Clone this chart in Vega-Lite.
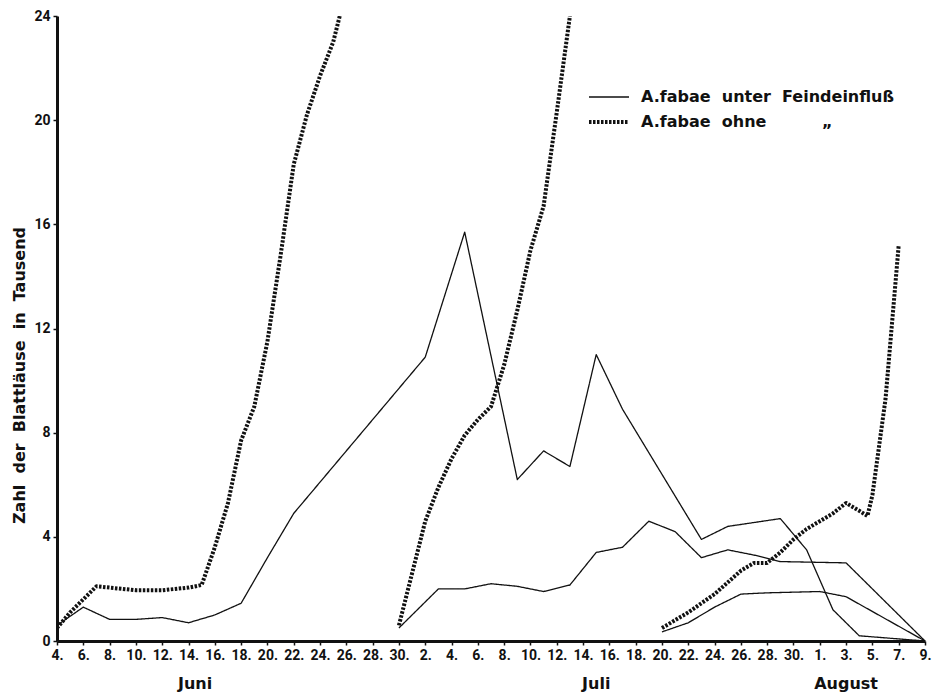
{
  "$schema": "https://vega.github.io/schema/vega-lite/v6.json",
  "autosize": "none",
  "width": 868,
  "height": 625,
  "padding": {"left": 57, "top": 16, "right": 17, "bottom": 55},
  "background": "white",
  "config": {
    "view": {"stroke": null},
    "font": "Roboto",
    "axis": {"labelOverlap": false}
  },
  "datasets": {
    "kurven": [
      {"tag": "1961-06-04", "anzahl": 0.6, "gruppe": "unter Feindeinfluß", "serie": "A"},
      {"tag": "1961-06-06", "anzahl": 1.3, "gruppe": "unter Feindeinfluß", "serie": "A"},
      {"tag": "1961-06-08", "anzahl": 0.83, "gruppe": "unter Feindeinfluß", "serie": "A"},
      {"tag": "1961-06-10", "anzahl": 0.83, "gruppe": "unter Feindeinfluß", "serie": "A"},
      {"tag": "1961-06-12", "anzahl": 0.9, "gruppe": "unter Feindeinfluß", "serie": "A"},
      {"tag": "1961-06-14", "anzahl": 0.7, "gruppe": "unter Feindeinfluß", "serie": "A"},
      {"tag": "1961-06-16", "anzahl": 1.0, "gruppe": "unter Feindeinfluß", "serie": "A"},
      {"tag": "1961-06-18", "anzahl": 1.45, "gruppe": "unter Feindeinfluß", "serie": "A"},
      {"tag": "1961-06-20", "anzahl": 3.2, "gruppe": "unter Feindeinfluß", "serie": "A"},
      {"tag": "1961-06-22", "anzahl": 4.9, "gruppe": "unter Feindeinfluß", "serie": "A"},
      {"tag": "1961-07-02", "anzahl": 10.9, "gruppe": "unter Feindeinfluß", "serie": "A"},
      {"tag": "1961-07-05", "anzahl": 15.7, "gruppe": "unter Feindeinfluß", "serie": "A"},
      {"tag": "1961-07-09", "anzahl": 6.2, "gruppe": "unter Feindeinfluß", "serie": "A"},
      {"tag": "1961-07-11", "anzahl": 7.3, "gruppe": "unter Feindeinfluß", "serie": "A"},
      {"tag": "1961-07-13", "anzahl": 6.7, "gruppe": "unter Feindeinfluß", "serie": "A"},
      {"tag": "1961-07-15", "anzahl": 11.0, "gruppe": "unter Feindeinfluß", "serie": "A"},
      {"tag": "1961-07-17", "anzahl": 8.9, "gruppe": "unter Feindeinfluß", "serie": "A"},
      {"tag": "1961-07-23", "anzahl": 3.9, "gruppe": "unter Feindeinfluß", "serie": "A"},
      {"tag": "1961-07-25", "anzahl": 4.4, "gruppe": "unter Feindeinfluß", "serie": "A"},
      {"tag": "1961-07-29", "anzahl": 4.7, "gruppe": "unter Feindeinfluß", "serie": "A"},
      {"tag": "1961-07-31", "anzahl": 3.5, "gruppe": "unter Feindeinfluß", "serie": "A"},
      {"tag": "1961-08-02", "anzahl": 1.2, "gruppe": "unter Feindeinfluß", "serie": "A"},
      {"tag": "1961-08-04", "anzahl": 0.2, "gruppe": "unter Feindeinfluß", "serie": "A"},
      {"tag": "1961-08-09", "anzahl": 0.0, "gruppe": "unter Feindeinfluß", "serie": "A"},

      {"tag": "1961-06-30", "anzahl": 0.5, "gruppe": "unter Feindeinfluß", "serie": "B"},
      {"tag": "1961-07-03", "anzahl": 2.0, "gruppe": "unter Feindeinfluß", "serie": "B"},
      {"tag": "1961-07-05", "anzahl": 2.0, "gruppe": "unter Feindeinfluß", "serie": "B"},
      {"tag": "1961-07-07", "anzahl": 2.2, "gruppe": "unter Feindeinfluß", "serie": "B"},
      {"tag": "1961-07-09", "anzahl": 2.1, "gruppe": "unter Feindeinfluß", "serie": "B"},
      {"tag": "1961-07-11", "anzahl": 1.9, "gruppe": "unter Feindeinfluß", "serie": "B"},
      {"tag": "1961-07-13", "anzahl": 2.15, "gruppe": "unter Feindeinfluß", "serie": "B"},
      {"tag": "1961-07-15", "anzahl": 3.4, "gruppe": "unter Feindeinfluß", "serie": "B"},
      {"tag": "1961-07-17", "anzahl": 3.6, "gruppe": "unter Feindeinfluß", "serie": "B"},
      {"tag": "1961-07-19", "anzahl": 4.6, "gruppe": "unter Feindeinfluß", "serie": "B"},
      {"tag": "1961-07-21", "anzahl": 4.2, "gruppe": "unter Feindeinfluß", "serie": "B"},
      {"tag": "1961-07-23", "anzahl": 3.2, "gruppe": "unter Feindeinfluß", "serie": "B"},
      {"tag": "1961-07-25", "anzahl": 3.5, "gruppe": "unter Feindeinfluß", "serie": "B"},
      {"tag": "1961-07-27", "anzahl": 3.3, "gruppe": "unter Feindeinfluß", "serie": "B"},
      {"tag": "1961-07-29", "anzahl": 3.05, "gruppe": "unter Feindeinfluß", "serie": "B"},
      {"tag": "1961-08-03", "anzahl": 3.0, "gruppe": "unter Feindeinfluß", "serie": "B"},
      {"tag": "1961-08-09", "anzahl": 0.0, "gruppe": "unter Feindeinfluß", "serie": "B"},

      {"tag": "1961-07-20", "anzahl": 0.35, "gruppe": "unter Feindeinfluß", "serie": "C"},
      {"tag": "1961-07-22", "anzahl": 0.7, "gruppe": "unter Feindeinfluß", "serie": "C"},
      {"tag": "1961-07-24", "anzahl": 1.3, "gruppe": "unter Feindeinfluß", "serie": "C"},
      {"tag": "1961-07-26", "anzahl": 1.8, "gruppe": "unter Feindeinfluß", "serie": "C"},
      {"tag": "1961-07-28", "anzahl": 1.85, "gruppe": "unter Feindeinfluß", "serie": "C"},
      {"tag": "1961-08-01", "anzahl": 1.9, "gruppe": "unter Feindeinfluß", "serie": "C"},
      {"tag": "1961-08-03", "anzahl": 1.7, "gruppe": "unter Feindeinfluß", "serie": "C"},
      {"tag": "1961-08-09", "anzahl": 0.0, "gruppe": "unter Feindeinfluß", "serie": "C"},

      {"tag": "1961-06-04", "anzahl": 0.5, "gruppe": "ohne", "serie": "D"},
      {"tag": "1961-06-05", "anzahl": 1.1, "gruppe": "ohne", "serie": "D"},
      {"tag": "1961-06-06", "anzahl": 1.6, "gruppe": "ohne", "serie": "D"},
      {"tag": "1961-06-07", "anzahl": 2.1, "gruppe": "ohne", "serie": "D"},
      {"tag": "1961-06-08", "anzahl": 2.05, "gruppe": "ohne", "serie": "D"},
      {"tag": "1961-06-10", "anzahl": 1.95, "gruppe": "ohne", "serie": "D"},
      {"tag": "1961-06-12", "anzahl": 1.95, "gruppe": "ohne", "serie": "D"},
      {"tag": "1961-06-14", "anzahl": 2.05, "gruppe": "ohne", "serie": "D"},
      {"tag": "1961-06-15", "anzahl": 2.15, "gruppe": "ohne", "serie": "D"},
      {"tag": "1961-06-16", "anzahl": 3.6, "gruppe": "ohne", "serie": "D"},
      {"tag": "1961-06-17", "anzahl": 5.3, "gruppe": "ohne", "serie": "D"},
      {"tag": "1961-06-18", "anzahl": 7.7, "gruppe": "ohne", "serie": "D"},
      {"tag": "1961-06-19", "anzahl": 9.0, "gruppe": "ohne", "serie": "D"},
      {"tag": "1961-06-20", "anzahl": 11.5, "gruppe": "ohne", "serie": "D"},
      {"tag": "1961-06-21", "anzahl": 14.8, "gruppe": "ohne", "serie": "D"},
      {"tag": "1961-06-22", "anzahl": 18.3, "gruppe": "ohne", "serie": "D"},
      {"tag": "1961-06-23", "anzahl": 20.2, "gruppe": "ohne", "serie": "D"},
      {"tag": "1961-06-24", "anzahl": 21.7, "gruppe": "ohne", "serie": "D"},
      {"tag": "1961-06-25", "anzahl": 23.0, "gruppe": "ohne", "serie": "D"},
      {"tag": "1961-06-25T12:00:00Z", "anzahl": 24.0, "gruppe": "ohne", "serie": "D"},

      {"tag": "1961-06-30", "anzahl": 0.6, "gruppe": "ohne", "serie": "E"},
      {"tag": "1961-07-01", "anzahl": 2.6, "gruppe": "ohne", "serie": "E"},
      {"tag": "1961-07-02", "anzahl": 4.6, "gruppe": "ohne", "serie": "E"},
      {"tag": "1961-07-03", "anzahl": 5.9, "gruppe": "ohne", "serie": "E"},
      {"tag": "1961-07-04", "anzahl": 7.0, "gruppe": "ohne", "serie": "E"},
      {"tag": "1961-07-05", "anzahl": 7.9, "gruppe": "ohne", "serie": "E"},
      {"tag": "1961-07-06", "anzahl": 8.5, "gruppe": "ohne", "serie": "E"},
      {"tag": "1961-07-07", "anzahl": 9.0, "gruppe": "ohne", "serie": "E"},
      {"tag": "1961-07-08", "anzahl": 10.6, "gruppe": "ohne", "serie": "E"},
      {"tag": "1961-07-09", "anzahl": 12.7, "gruppe": "ohne", "serie": "E"},
      {"tag": "1961-07-10", "anzahl": 15.0, "gruppe": "ohne", "serie": "E"},
      {"tag": "1961-07-11", "anzahl": 16.7, "gruppe": "ohne", "serie": "E"},
      {"tag": "1961-07-12", "anzahl": 20.3, "gruppe": "ohne", "serie": "E"},
      {"tag": "1961-07-13", "anzahl": 24.0, "gruppe": "ohne", "serie": "E"},

      {"tag": "1961-07-20", "anzahl": 0.5, "gruppe": "ohne", "serie": "F"},
      {"tag": "1961-07-22", "anzahl": 1.1, "gruppe": "ohne", "serie": "F"},
      {"tag": "1961-07-24", "anzahl": 1.8, "gruppe": "ohne", "serie": "F"},
      {"tag": "1961-07-26", "anzahl": 2.7, "gruppe": "ohne", "serie": "F"},
      {"tag": "1961-07-27", "anzahl": 3.0, "gruppe": "ohne", "serie": "F"},
      {"tag": "1961-07-28", "anzahl": 3.0, "gruppe": "ohne", "serie": "F"},
      {"tag": "1961-07-29", "anzahl": 3.4, "gruppe": "ohne", "serie": "F"},
      {"tag": "1961-07-30", "anzahl": 3.9, "gruppe": "ohne", "serie": "F"},
      {"tag": "1961-07-31", "anzahl": 4.3, "gruppe": "ohne", "serie": "F"},
      {"tag": "1961-08-01", "anzahl": 4.6, "gruppe": "ohne", "serie": "F"},
      {"tag": "1961-08-02", "anzahl": 4.9, "gruppe": "ohne", "serie": "F"},
      {"tag": "1961-08-03", "anzahl": 5.3, "gruppe": "ohne", "serie": "F"},
      {"tag": "1961-08-04", "anzahl": 5.0, "gruppe": "ohne", "serie": "F"},
      {"tag": "1961-08-04T15:00:00Z", "anzahl": 4.8, "gruppe": "ohne", "serie": "F"},
      {"tag": "1961-08-05", "anzahl": 5.6, "gruppe": "ohne", "serie": "F"},
      {"tag": "1961-08-06", "anzahl": 9.3, "gruppe": "ohne", "serie": "F"},
      {"tag": "1961-08-07", "anzahl": 15.2, "gruppe": "ohne", "serie": "F"}
    ],
    "monate": [
      {"tag": "1961-06-14T12:00:00Z", "monat": "Juni"},
      {"tag": "1961-07-15", "monat": "Juli"},
      {"tag": "1961-08-03", "monat": "August"}
    ]
  },
  "encoding": {
    "x": {
      "field": "tag",
      "type": "temporal",
      "scale": {"type": "utc", "domain": [{"year": 1961, "month": 6, "date": 4, "utc": true}, {"year": 1961, "month": 8, "date": 9, "utc": true}]},
      "axis": {
        "title": null,
        "format": "%-d.",
        "values": [
          {"year": 1961, "month": 6, "date": 4, "utc": true},
          {"year": 1961, "month": 6, "date": 6, "utc": true},
          {"year": 1961, "month": 6, "date": 8, "utc": true},
          {"year": 1961, "month": 6, "date": 10, "utc": true},
          {"year": 1961, "month": 6, "date": 12, "utc": true},
          {"year": 1961, "month": 6, "date": 14, "utc": true},
          {"year": 1961, "month": 6, "date": 16, "utc": true},
          {"year": 1961, "month": 6, "date": 18, "utc": true},
          {"year": 1961, "month": 6, "date": 20, "utc": true},
          {"year": 1961, "month": 6, "date": 22, "utc": true},
          {"year": 1961, "month": 6, "date": 24, "utc": true},
          {"year": 1961, "month": 6, "date": 26, "utc": true},
          {"year": 1961, "month": 6, "date": 28, "utc": true},
          {"year": 1961, "month": 6, "date": 30, "utc": true},
          {"year": 1961, "month": 7, "date": 2, "utc": true},
          {"year": 1961, "month": 7, "date": 4, "utc": true},
          {"year": 1961, "month": 7, "date": 6, "utc": true},
          {"year": 1961, "month": 7, "date": 8, "utc": true},
          {"year": 1961, "month": 7, "date": 10, "utc": true},
          {"year": 1961, "month": 7, "date": 12, "utc": true},
          {"year": 1961, "month": 7, "date": 14, "utc": true},
          {"year": 1961, "month": 7, "date": 16, "utc": true},
          {"year": 1961, "month": 7, "date": 18, "utc": true},
          {"year": 1961, "month": 7, "date": 20, "utc": true},
          {"year": 1961, "month": 7, "date": 22, "utc": true},
          {"year": 1961, "month": 7, "date": 24, "utc": true},
          {"year": 1961, "month": 7, "date": 26, "utc": true},
          {"year": 1961, "month": 7, "date": 28, "utc": true},
          {"year": 1961, "month": 7, "date": 30, "utc": true},
          {"year": 1961, "month": 8, "date": 1, "utc": true},
          {"year": 1961, "month": 8, "date": 3, "utc": true},
          {"year": 1961, "month": 8, "date": 5, "utc": true},
          {"year": 1961, "month": 8, "date": 7, "utc": true},
          {"year": 1961, "month": 8, "date": 9, "utc": true}
        ],
        "grid": false,
        "domainColor": "#111111",
        "domainWidth": 3,
        "tickColor": "#111111",
        "tickSize": 4,
        "tickWidth": 1.5,
        "labelFont": "Roboto",
        "labelFontSize": 14,
        "labelFontWeight": "bold",
        "labelColor": "#111111",
        "labelPadding": 3,
        "labelOverlap": false,
        "labelFlush": false,
        "labelBound": false
      }
    }
  },
  "layer": [
    {
      "data": {"name": "kurven"},
      "mark": {"type": "line", "color": "#111111", "clip": true, "strokeCap": "butt", "strokeJoin": "round"},
      "encoding": {
        "y": {
          "field": "anzahl",
          "type": "quantitative",
          "scale": {"domain": [0, 24], "nice": false, "zero": true},
          "axis": {
            "title": "Zahl\u00a0\u00a0der\u00a0\u00a0Blattläuse\u00a0\u00a0in\u00a0\u00a0Tausend",
            "values": [0, 4, 8, 12, 16, 20, 24],
            "grid": false,
            "domainColor": "#111111",
            "domainWidth": 3,
            "tickColor": "#111111",
            "tickSize": 4,
            "tickWidth": 1.5,
            "labelFont": "Roboto",
            "labelFontSize": 14,
            "labelFontWeight": "bold",
            "labelColor": "#111111",
            "labelPadding": 3,
            "titleFont": "DejaVu Sans",
            "titleFontSize": 16,
            "titleFontWeight": "bold",
            "titleColor": "#111111",
            "titleX": -38,
            "titleY": 359,
            "titleAngle": 270,
            "titleAlign": "center",
            "titleBaseline": "middle"
          }
        },
        "detail": {"field": "serie", "type": "nominal"},
        "strokeDash": {
          "field": "gruppe",
          "type": "nominal",
          "scale": {"domain": ["unter Feindeinfluß", "ohne"], "range": [[1, 0], [2.5, 1.5]]},
          "legend": {
            "orient": "none",
            "legendX": 540,
            "legendY": 70,
            "title": null,
            "symbolType": "M-2,0H2",
            "symbolSize": 400,
            "symbolStrokeColor": "#111111",
            "labelFont": "DejaVu Sans",
            "labelFontSize": 16,
            "labelFontWeight": "bold",
            "labelColor": "#111111",
            "labelOffset": 20,
            "labelLimit": 0,
            "rowPadding": 5,
            "labelExpr": "datum.label == 'ohne' ? 'A.fabae\u00a0\u00a0ohne\u00a0\u00a0\u00a0\u00a0\u00a0\u00a0\u00a0\u00a0\u00a0\u00a0\u201e' : 'A.fabae\u00a0\u00a0unter\u00a0\u00a0Feindeinfluß'"
          }
        },
        "strokeWidth": {
          "field": "gruppe",
          "type": "ordinal",
          "scale": {"domain": ["unter Feindeinfluß", "ohne"], "range": [1.3, 4]},
          "legend": {
            "orient": "none",
            "legendX": 540,
            "legendY": 70,
            "title": null,
            "symbolType": "M-2,0H2",
            "symbolSize": 400,
            "symbolStrokeColor": "#111111",
            "labelFont": "DejaVu Sans",
            "labelFontSize": 16,
            "labelFontWeight": "bold",
            "labelColor": "#111111",
            "labelOffset": 20,
            "labelLimit": 0,
            "rowPadding": 5,
            "labelExpr": "datum.label == 'ohne' ? 'A.fabae\u00a0\u00a0ohne\u00a0\u00a0\u00a0\u00a0\u00a0\u00a0\u00a0\u00a0\u00a0\u00a0\u201e' : 'A.fabae\u00a0\u00a0unter\u00a0\u00a0Feindeinfluß'"
          }
        }
      }
    },
    {
      "data": {"name": "monate"},
      "mark": {"type": "text", "font": "DejaVu Sans", "fontSize": 16, "fontWeight": "bold", "color": "#111111", "baseline": "middle", "align": "center"},
      "encoding": {
        "y": {"datum": -1.65, "type": "quantitative"},
        "text": {"field": "monat", "type": "nominal"}
      }
    }
  ]
}
